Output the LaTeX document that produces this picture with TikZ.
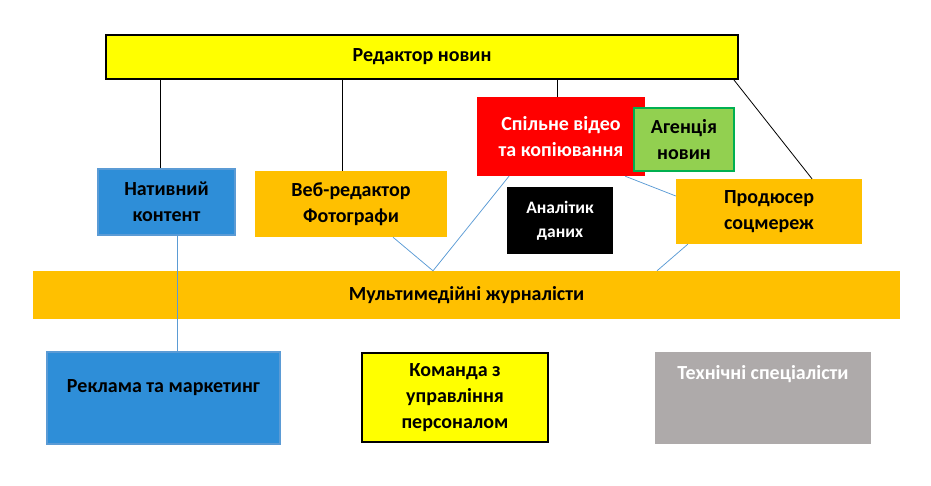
\documentclass[tikz,border=0pt]{standalone}
\usepackage{fontspec}
\setmainfont{Carlito}
\usetikzlibrary{positioning}

\definecolor{ylw}{RGB}{255,255,0}
\definecolor{org}{RGB}{255,192,0}
\definecolor{blu}{RGB}{46,142,216}
\definecolor{bluedge}{RGB}{91,155,213}
\definecolor{grn}{RGB}{146,208,80}
\definecolor{grnedge}{RGB}{0,176,80}
\definecolor{gry}{RGB}{174,170,170}

\begin{document}
\begin{tikzpicture}[x=1pt,y=-1pt,
  font=\fontsize{20}{26}\selectfont\bfseries,
  box/.style={inner sep=0pt,align=center},
  blk/.style={line width=0.8pt,black},
  bln/.style={line width=0.75pt,bluedge},
]

\useasboundingbox (0,0) rectangle (931,485);

% ------------------------------------------------------------------
% top row
% ------------------------------------------------------------------
\node[box,fill=ylw,draw=black,line width=2pt,minimum width=632,minimum height=44]
  (edit) at (422,57) {Редактор новин};

\node[box,fill=blu,draw=bluedge,line width=2pt,minimum width=137,minimum height=66]
  (nat) at (166.5,202) {Нативний\\контент};
\node[box,fill=org,minimum width=192,minimum height=66]
  (web) at (351,204) {Веб-редактор\\Фотографи};
\node[box,fill=red,text=white,minimum width=168,minimum height=79]
  (video) at (561,136.5) {Спільне відео\\та копіювання};
\node[box,fill=grn,draw=grnedge,line width=2pt,minimum width=100,minimum height=63]
  (agency) at (684,139.5) {Агенція\\новин};
\node[box,fill=black,text=white,minimum width=106,minimum height=67,
  font=\fontsize{17.5}{24}\selectfont\bfseries]
  (analyst) at (560,220.5) {Аналітик\\даних};
\node[box,fill=org,minimum width=186,minimum height=65]
  (smm) at (769,211.5) {Продюсер\\соцмереж};

% ------------------------------------------------------------------
% middle band and bottom row
% ------------------------------------------------------------------
\node[box,fill=org,minimum width=867,minimum height=48]
  (multi) at (466.5,295) {Мультимедійні журналісти};

\node[box,fill=blu,draw=bluedge,line width=2pt,minimum width=233,minimum height=92,
  text depth=24pt]
  (ads) at (163.5,398) {Реклама та маркетинг};
\node[box,fill=ylw,draw=black,line width=2pt,minimum width=186,minimum height=89]
  (hr) at (455,397.5) {Команда з\\управління\\персоналом};
\node[box,fill=gry,text=white,minimum width=216,minimum height=92,
  text depth=52pt]
  (tech) at (763,398) {Технічні спеціалісти};

% ------------------------------------------------------------------
% connectors
% ------------------------------------------------------------------
\draw[blk] ([xshift=-6pt]nat.north) -- ([xshift=-6pt]edit.south -| nat.north);
\draw[blk] ([xshift=-8.5pt]web.north) -- ([xshift=-8.5pt]edit.south -| web.north);
\draw[blk] ([xshift=-3.5pt]video.north) -- ([xshift=-3.5pt]edit.south -| video.north);
\draw[blk] ([xshift=-5pt]edit.south east) -- ([xshift=43pt]smm.north);

\coordinate (vtip) at ([xshift=-33.5pt]multi.north);
\draw[bln] ([xshift=10.5pt]nat.south) -- ([xshift=10.5pt]nat.south |- ads.north);
\draw[bln] ([xshift=42pt]web.south) -- (vtip) -- ([xshift=-52pt]video.south);
\draw[bln] ([xshift=-20pt]video.south east) -- ([yshift=15.5pt]smm.west);
\draw[bln] ([xshift=12pt]smm.south west) -- ([xshift=190.5pt]multi.north);

\end{tikzpicture}
\end{document}
